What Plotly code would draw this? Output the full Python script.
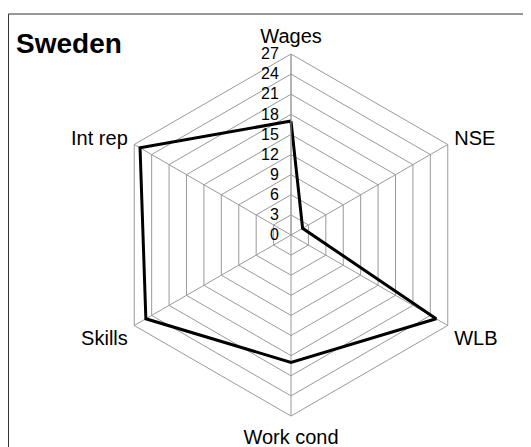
import plotly.graph_objects as go

categories = ["Wages", "NSE", "WLB", "Work cond", "Skills", "Int rep"]
values = [17, 2, 25, 19, 25, 26]
radial_ticks = [0, 3, 6, 9, 12, 15, 18, 21, 24, 27]
title_text = "Sweden"

# page has an 8px body margin; figure sized to fit the window
OFF = 8
W, H = 531 - OFF, 447 - OFF
cx, cy, R = 291 - OFF, 235 - OFF, 181

grid = "#9a9a9a"

fig = go.Figure()
fig.add_trace(go.Scatterpolar(
    r=values + values[:1],
    theta=categories + categories[:1],
    mode="lines",
    line=dict(color="black", width=3),
    showlegend=False,
))

fig.update_layout(
    width=W, height=H,
    margin=dict(l=0, r=0, t=0, b=0),
    paper_bgcolor="white",
    plot_bgcolor="white",
    font=dict(family="Liberation Sans, Arial, sans-serif", color="black"),
    polar=dict(
        domain=dict(x=[(cx - R) / W, (cx + R) / W], y=[1 - (cy + R) / H, 1 - (cy - R) / H]),
        gridshape="linear",
        bgcolor="white",
        angularaxis=dict(
            rotation=90, direction="clockwise",
            categoryorder="array", categoryarray=categories,
            showline=True, linecolor=grid, linewidth=1,
            gridcolor=grid, gridwidth=1,
            ticks="outside", ticklen=3, tickcolor="rgba(0,0,0,0)",
            tickfont=dict(size=20, color="black"),
        ),
        radialaxis=dict(
            range=[0, 27], tickvals=radial_ticks,
            ticktext=[str(v) for v in radial_ticks],
            angle=90, side="counterclockwise", tickangle=90,
            showline=True, linecolor=grid, linewidth=1,
            gridcolor=grid, gridwidth=1,
            ticks="outside", ticklen=6, tickcolor="rgba(0,0,0,0)",
            tickfont=dict(size=16, color="black"),
        ),
    ),
    shapes=[dict(
        type="rect", xref="paper", yref="paper",
        x0=0.5 / W, x1=1.05, y0=-0.05, y1=1 - (14 - OFF) / H,
        line=dict(color="#333333", width=1), layer="below",
    )],
    annotations=[dict(
        text="<b>" + title_text + "</b>", xref="paper", yref="paper",
        x=(14 - OFF) / W, y=1 - (43 - OFF) / H, xanchor="left", yanchor="middle",
        showarrow=False, font=dict(size=28, color="black"),
    )],
)

fig.write_html("out.html")
